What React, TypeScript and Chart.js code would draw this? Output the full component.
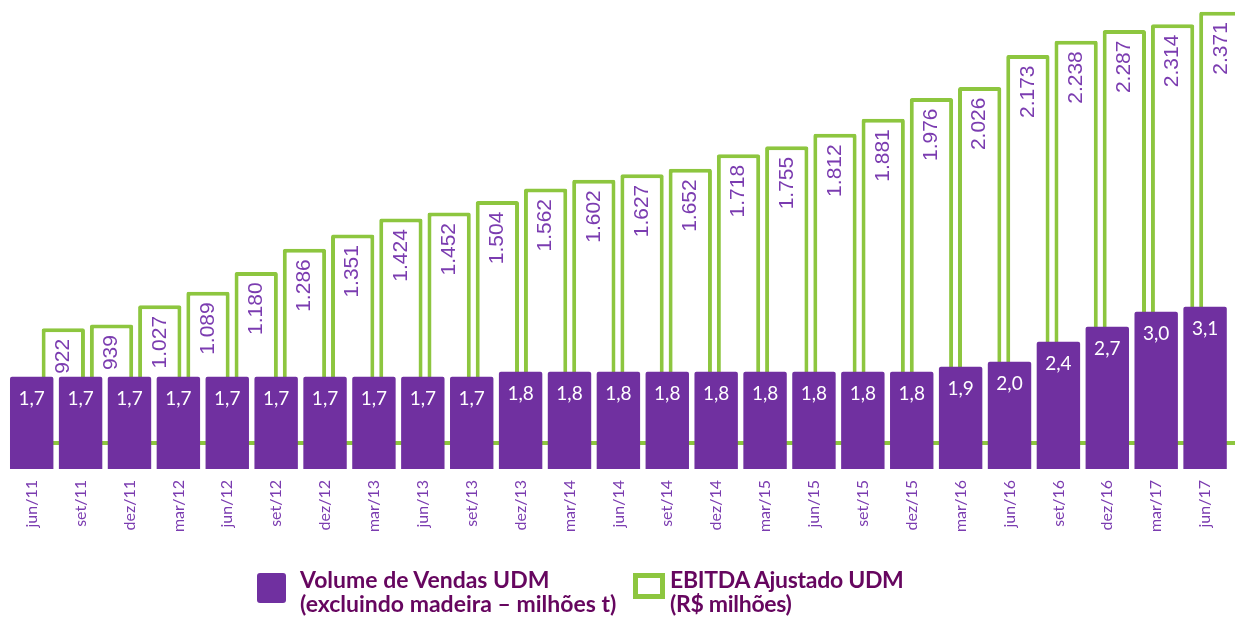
import React, { useEffect, useRef } from 'react';
import { Chart, registerables } from 'chart.js';

Chart.register(...registerables);

const categories = [
  'jun/11', 'set/11', 'dez/11', 'mar/12', 'jun/12', 'set/12', 'dez/12', 'mar/13', 'jun/13', 'set/13',
  'dez/13', 'mar/14', 'jun/14', 'set/14', 'dez/14', 'mar/15', 'jun/15', 'set/15', 'dez/15', 'mar/16',
  'jun/16', 'set/16', 'dez/16', 'mar/17', 'jun/17',
];

const volumeValues = [
  1.7, 1.7, 1.7, 1.7, 1.7, 1.7, 1.7, 1.7, 1.7, 1.7,
  1.8, 1.8, 1.8, 1.8, 1.8, 1.8, 1.8, 1.8, 1.8, 1.9,
  2.0, 2.4, 2.7, 3.0, 3.1,
];

const ebitdaValues = [
  922, 939, 1027, 1089, 1180, 1286, 1351, 1424, 1452, 1504,
  1562, 1602, 1627, 1652, 1718, 1755, 1812, 1881, 1976, 2026,
  2173, 2238, 2287, 2314, 2371,
];

const PURPLE = '#7030A0';
const GREEN = '#8DC63F';
const LABEL_PURPLE = '#7B3CB0';
const LEGEND_TEXT = '#66065F';

const fmtVolume = (v: number) => v.toFixed(1).replace('.', ',');
const fmtEbitda = (v: number) => {
  const s = String(Math.round(v));
  return s.length > 3 ? s.slice(0, s.length - 3) + '.' + s.slice(s.length - 3) : s;
};

const integerTicks = (scale: any) => {
  scale.ticks = categories.map((_, i) => ({ value: i }));
};

const valueLabels = {
  id: 'valueLabels',
  afterDatasetsDraw(chart: any) {
    const ctx = chart.ctx;
    const gMeta = chart.getDatasetMeta(1);
    ctx.save();
    ctx.fillStyle = LABEL_PURPLE;
    ctx.font = '21px "Liberation Sans Narrow", "Liberation Sans", Arial, sans-serif';
    ctx.textAlign = 'right';
    ctx.textBaseline = 'middle';
    gMeta.data.forEach((el: any, i: number) => {
      ctx.save();
      ctx.translate(el.x, el.y + 10.5);
      ctx.rotate(-Math.PI / 2);
      ctx.fillText(fmtEbitda(ebitdaValues[i]), 0, 0);
      ctx.restore();
    });
    const pMeta = chart.getDatasetMeta(0);
    ctx.fillStyle = '#FFFFFF';
    ctx.font = '19px Lato, "Open Sans", sans-serif';
    ctx.textAlign = 'center';
    ctx.textBaseline = 'middle';
    pMeta.data.forEach((el: any, i: number) => {
      ctx.fillText(fmtVolume(volumeValues[i]), el.x, el.y + 22);
    });
    ctx.restore();
  },
};

export default function App() {
  const canvasRef = useRef<HTMLCanvasElement | null>(null);

  useEffect(() => {
    if (!canvasRef.current) return;
    const chart = new Chart(canvasRef.current, {
      type: 'bar',
      data: {
        datasets: [
          {
            label: 'Volume de Vendas UDM (excluindo madeira – milhões t)',
            data: volumeValues.map((v, i) => ({ x: i, y: v })),
            xAxisID: 'x',
            yAxisID: 'y',
            backgroundColor: PURPLE,
            borderWidth: 0,
            borderRadius: 2,
            base: -0.146,
            grouped: false,
            barPercentage: 0.888,
            categoryPercentage: 1,
          },
          {
            label: 'EBITDA Ajustado UDM (R$ milhões)',
            data: ebitdaValues.map((v, i) => ({ x: i, y: v })),
            xAxisID: 'x2',
            yAxisID: 'y2',
            backgroundColor: '#FFFFFF',
            borderColor: GREEN,
            borderWidth: 4,
            borderSkipped: false,
            borderRadius: 2,
            base: 388,
            grouped: false,
            barPercentage: 0.898,
            categoryPercentage: 1,
            clip: false,
          },
        ],
      } as any,
      options: {
        animation: false,
        responsive: false,
        devicePixelRatio: 1,
        layout: { padding: 0 },
        plugins: {
          legend: { display: false },
          tooltip: { enabled: false },
        },
        scales: {
          x: {
            type: 'linear',
            position: 'bottom',
            bounds: 'data',
            offset: false,
            min: -0.6484,
            max: 24.612,
            grid: { display: false, drawTicks: false, offset: false },
            border: { display: false },
            afterBuildTicks: integerTicks,
            afterFit: (scale: any) => {
              scale.height = 150;
              scale.paddingLeft = 0;
              scale.paddingRight = 0;
            },
            ticks: {
              autoSkip: false,
              maxRotation: 90,
              minRotation: 90,
              padding: 11,
              color: LABEL_PURPLE,
              font: { family: 'Lato, "Open Sans", sans-serif', size: 16 },
              callback: (value: any) => {
                const idx = Math.round(Number(value));
                return categories[idx] ?? '';
              },
            },
          },
          x2: {
            type: 'linear',
            display: false,
            bounds: 'data',
            offset: false,
            min: -1.3125,
            max: 24.294,
            afterBuildTicks: integerTicks,
          },
          y: {
            type: 'linear',
            display: false,
            min: -0.146,
            max: 9.234,
          },
          y2: {
            type: 'linear',
            display: false,
            min: 278,
            max: 2424.5,
          },
        },
      } as any,
      plugins: [valueLabels],
    });
    return () => chart.destroy();
  }, []);

  const legendText: React.CSSProperties = {
    position: 'absolute',
    top: 567,
    fontFamily: 'Lato, "Open Sans", sans-serif',
    fontWeight: 700,
    fontSize: 23,
    lineHeight: '24px',
    color: LEGEND_TEXT,
    whiteSpace: 'nowrap',
  };

  return (
    <div style={{ position: 'absolute', left: 0, top: 0, width: 1235, height: 619, background: '#FFFFFF', overflow: 'hidden' }}>
      <canvas ref={canvasRef} width={1235} height={619} style={{ display: 'block' }} />
      <div style={{ position: 'absolute', left: 257, top: 573, width: 29, height: 30, background: PURPLE, borderRadius: 3 }} />
      <div style={{ ...legendText, left: 300 }}>
        Volume de Vendas UDM
        <br />
        (excluindo madeira – milhões t)
      </div>
      <div
        style={{
          position: 'absolute',
          left: 633,
          top: 573,
          width: 32,
          height: 26,
          boxSizing: 'border-box',
          border: `5px solid ${GREEN}`,
          filter: 'blur(0.5px)',
        }}
      />
      <div style={{ ...legendText, left: 670, letterSpacing: '-0.3px' }}>
        EBITDA Ajustado UDM
        <br />
        (R$ milhões)
      </div>
    </div>
  );
}
